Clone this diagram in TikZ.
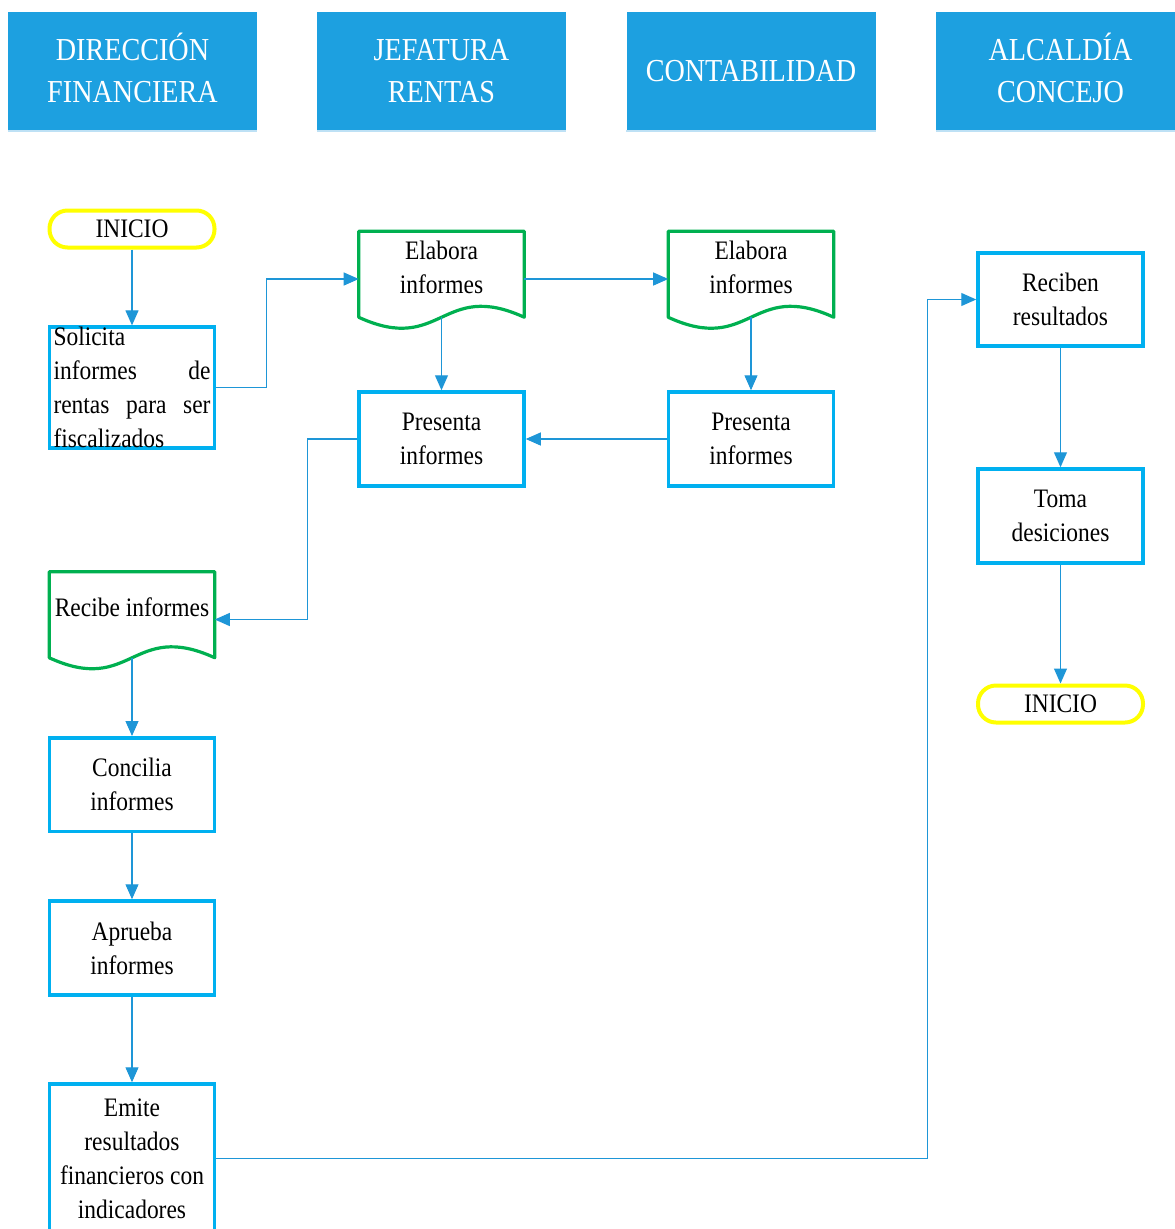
\documentclass[tikz,border=0pt]{standalone}
\usepackage{fontspec}
\setmainfont{Liberation Serif}[FakeStretch=0.88]
\usetikzlibrary{arrows.meta,calc}

\definecolor{headfill}{RGB}{29,160,224}
\definecolor{headedge}{RGB}{190,225,245}
\definecolor{boxblue}{RGB}{0,176,240}
\definecolor{docgreen}{RGB}{0,176,80}
\definecolor{termyellow}{RGB}{255,255,0}
\definecolor{linkblue}{RGB}{30,150,215}

\def\pxu{0.75pt}

\tikzset{
  header/.style={fill=headfill, text=white, align=center, inner sep=0pt,
    minimum width=249*\pxu, minimum height=118*\pxu,
    font=\fontsize{24}{31.5}\selectfont},
  body/.style={font=\fontsize{20}{25.5}\selectfont},
  stepbox/.style={body, draw=boxblue, line width=3.5*\pxu, align=center,
    minimum width=165*\pxu, inner xsep=3.5*\pxu, inner ysep=0pt},
  terminal/.style={body, draw=termyellow, line width=4*\pxu, rounded corners=18*\pxu,
    minimum width=165*\pxu, minimum height=37*\pxu, inner sep=0pt},
  docbox/.style={minimum width=165*\pxu, minimum height=95*\pxu, inner sep=0pt},
  docline/.style={draw=docgreen, line width=3.2*\pxu, line join=round},
  doctext/.style={body, align=center},
  link/.style={draw=linkblue, line width=1.1*\pxu,
    -{Triangle[length=15*\pxu, width=13*\pxu]}},
}

% document symbol: straight top and sides, wavy bottom edge
\newcommand\docnode[4]{%
  \node[docbox] (#1) at (#2,#3) {};
  \coordinate (#1 wave) at ($(#1.south)+(0,-9.5)$);
  \draw[docline] (#1.north west) -- (#1.north east)
    -- ($(#1.south east)+(0,-9.5)$)
    .. controls ($(#1.south)+(0,-47.5)$) and ($(#1.south)+(0,28.5)$)
    .. ($(#1.south west)+(0,-9.5)$) -- cycle;
  \node[doctext] (#1 text) at ($(#1)+(0,-12)$) {#4};
}

\begin{document}
\begin{tikzpicture}[x=0.75pt, y=-0.75pt]
\useasboundingbox (0,0) rectangle (1175,1229);

% lane headers (accents smashed so both lines stay centred)
\foreach \cx/\name/\txt in {132.5/h1/{DIRECCI\smash{Ó}N\\FINANCIERA}, 441.5/h2/{JEFATURA\\RENTAS},
    751/h3/{CONTABILIDAD}, 1060.5/h4/{ALCALD\smash{Í}A\\CONCEJO}} {
  \node[header] (\name) at (\cx,71) {\txt};
  \draw[headedge, line width=2*\pxu] ($(\name.south west)+(0,1)$) -- ($(\name.south east)+(0,1)$);
}

% Dirección financiera
\node[terminal] (start) at (132,229) {INICIO};
\node[stepbox, minimum height=117*\pxu, text width=157*\pxu, align=left]
  (sol) at (132,387.5) {Solicita\\ informes\hfill de\\ rentas\hfill para\hfill ser\\ fiscalizados};
\docnode{rec}{132}{619.5}{Recibe informes}
\node[stepbox, minimum height=93.5*\pxu] (conc) at (132,784.5) {Concilia\\informes};
\node[stepbox, minimum height=94*\pxu] (apr) at (132,948) {Aprueba\\informes};
\node[stepbox, minimum height=149*\pxu] (emi) at (132,1158.5) {Emite\\resultados\\financieros con\\indicadores};

% Jefatura rentas
\docnode{ela1}{441.5}{279}{Elabora\\informes}
\node[stepbox, minimum height=94*\pxu] (pre1) at (441.5,439) {Presenta\\informes};

% Contabilidad
\docnode{ela2}{751}{279}{Elabora\\informes}
\node[stepbox, minimum height=94*\pxu] (pre2) at (751,439) {Presenta\\informes};

% Alcaldía / concejo
\node[stepbox, minimum height=93*\pxu] (rcb) at (1060.5,299.5) {Reciben\\resultados};
\node[stepbox, minimum height=94*\pxu] (toma) at (1060.5,516) {Toma\\desiciones};
\node[terminal] (fin) at (1060.5,704) {INICIO};

% connectors
\draw[link] (start) -- (sol);
\draw[link] (sol.east) -- ++(50,0) |- (ela1.west);
\draw[link] (ela1.east) -- (ela2.west);
\draw[link] (ela1 wave) -- (pre1.north);
\draw[link] (ela2 wave) -- (pre2.north);
\draw[link] (pre2.west) -- (pre1.east);
\draw[link] (pre1.west) -- ++(-50,0) |- (rec.east);
\draw[link] (rec wave) -- (conc.north);
\draw[link] (conc) -- (apr);
\draw[link] (apr) -- (emi);
\draw[link] (emi.east) -- ++(711,0) |- (rcb.west);
\draw[link] (rcb) -- (toma);
\draw[link] (toma) -- (fin);
\end{tikzpicture}
\end{document}
